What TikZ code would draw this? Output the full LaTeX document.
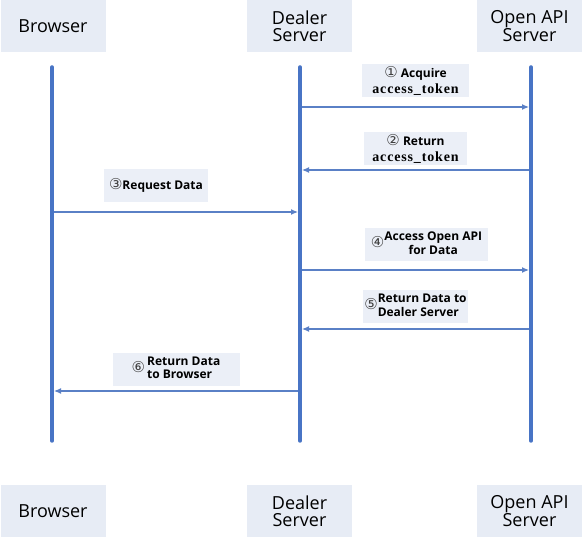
\documentclass[tikz,border=0pt]{standalone}
\usepackage{fontspec}
\setmainfont{Open Sans}
\newfontfamily\circfont{DejaVu Sans}
\newfontfamily\tokenfont[LetterSpace=6]{Liberation Serif}
\usetikzlibrary{positioning}
\usetikzlibrary{arrows.meta}

\definecolor{lifeblue}{HTML}{4874C5}
\definecolor{msgblue}{HTML}{5A80C6}
\definecolor{partyfill}{HTML}{E7ECF5}
\definecolor{labelfill}{HTML}{EBEFF7}

\newcommand{\circnum}[1]{{\circfont\mdseries\fontsize{15}{13}\selectfont\color{black!75}#1}}
\newcommand{\tok}{{\tokenfont\bfseries\fontsize{14}{13}\selectfont access\_token}}

\begin{document}
\begin{tikzpicture}[x=1pt, y=-1pt,
    party/.style={fill=partyfill, minimum width=105pt, minimum height=52pt,
        align=center, inner sep=0pt, font=\fontsize{18}{17}\selectfont},
    lifeline/.style={draw=lifeblue, line width=3.5pt, line cap=round},
    msg/.style={draw=msgblue, line width=1.2pt, shorten <=2pt, shorten >=2pt,
        -{Latex[length=7pt, width=6pt]}},
    msglabel/.style={fill=labelfill, minimum height=33pt, inner sep=1pt,
        align=center, font=\bfseries\fontsize{12}{13}\selectfont}]

    \useasboundingbox (0,0) rectangle (582,537);

    \node [party] (browser) at (53,26) {Browser};
    \node [party] (dealer) at (299.5,26) {Dealer\\Server};
    \node [party] (openapi) at (529.5,26) {Open API\\Server};

    \node [party] (browserb) at (53,511) {Browser};
    \node [party] (dealerb) at (299.5,511) {Dealer\\Server};
    \node [party] (openapib) at (529.5,511) {Open API\\Server};

    \coordinate (btop) at (52,67);
    \coordinate (bbot) at (52,441);
    \coordinate (dtop) at (300,67);
    \coordinate (dbot) at (300,441);
    \coordinate (otop) at (531,67);
    \coordinate (obot) at (531,441);
    \draw [lifeline] (btop) -- (bbot);
    \draw [lifeline] (dtop) -- (dbot);
    \draw [lifeline] (otop) -- (obot);

    \coordinate (d1) at (300,107);
    \coordinate (o1) at (531,107);
    \coordinate (o2) at (531,170);
    \coordinate (d2) at (300,170);
    \coordinate (b3) at (52,212);
    \coordinate (d3) at (300,212);
    \coordinate (d4) at (300,270);
    \coordinate (o4) at (531,270);
    \coordinate (o5) at (531,329);
    \coordinate (d5) at (300,329);
    \coordinate (d6) at (300,391);
    \coordinate (b6) at (52,391);

    \draw [msg] (d1) -- node [msglabel, above=9pt, minimum width=107pt]
        {\circnum{①} Acquire\\[3pt]\tok} (o1);
    \draw [msg] (o2) -- node [msglabel, above=4pt, minimum width=103pt]
        {\circnum{②} Return\\[3pt]\tok} (d2);
    \draw [msg] (b3) -- node [msglabel, above=9pt, xshift=-20pt, minimum width=104pt]
        {\circnum{③}Request Data} (d3);
    \draw [msg] (d4) -- node [msglabel, above=8pt, xshift=11pt, minimum width=123pt]
        {\circnum{④}\begin{tabular}{@{}c@{}}Access Open API\\for Data\end{tabular}} (o4);
    \draw [msg] (o5) -- node [msglabel, above=5pt, minimum width=103pt]
        {\circnum{⑤}\begin{tabular}{@{}l@{}}Return Data to\\Dealer Server\end{tabular}} (d5);
    \draw [msg] (d6) -- node [msglabel, above=4pt, minimum width=127pt]
        {\circnum{⑥}\,\begin{tabular}{@{}l@{}}Return Data\\to Browser\end{tabular}} (b6);
\end{tikzpicture}
\end{document}
